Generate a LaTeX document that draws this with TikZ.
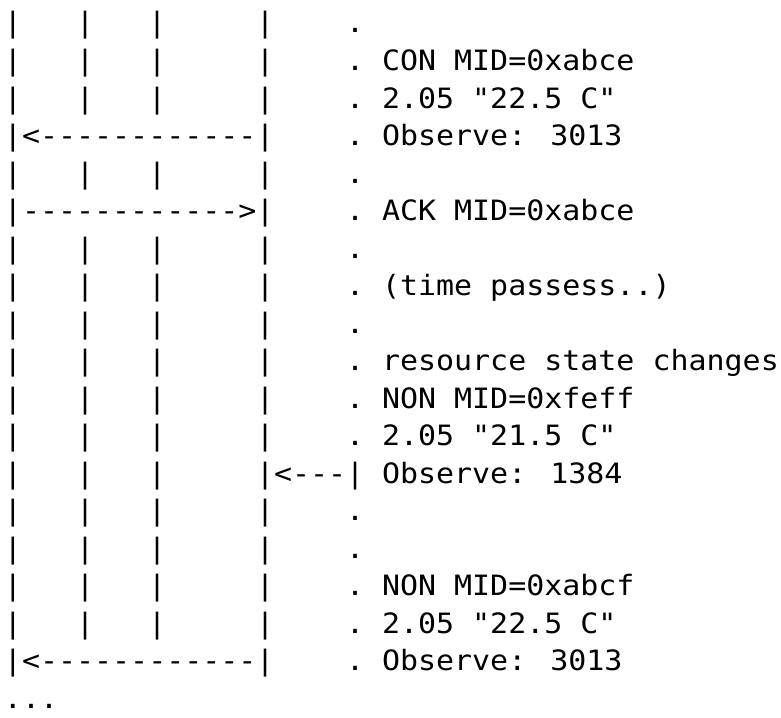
\documentclass[tikz,border=0pt]{standalone}
\usepackage{fontspec}
\newfontfamily\mono[FakeStretch=1.07,Ligatures=TeXOff]{DejaVu Sans Mono}

\begin{document}
\begin{tikzpicture}[x=1pt, y=-1pt,
    ch/.style={anchor=base west, inner sep=0, outer sep=0, font=\mono\fontsize{28}{37.5}\selectfont}
  ]
  \useasboundingbox (0,0) rectangle (781,717);
  % lifelines
  \foreach \r in {0,...,17}
    \foreach \c in {0,14}
      \node[ch] (bar-\r-\c) at ({4+18*\c},{33+37.5*\r}) {|};
  \foreach \r in {0,1,2,4,6,7,8,9,10,11,12,13,14,15,16}
    \foreach \c in {4,8}
      \node[ch] (bar-\r-\c) at ({4+18*\c},{33+37.5*\r}) {|};
  % dotted column
  \foreach \r in {0,1,2,3,4,5,6,7,8,9,10,11,13,14,15,16,17}
    \node[ch] (dot-\r) at ({4+18*19},{33+37.5*\r}) {.};
  % messages
  \node[ch] (msg-3)  at ({4+18*1},{33+37.5*3})   {<------------};
  \node[ch] (msg-5)  at ({4+18*1},{33+37.5*5})   {------------>};
  \node[ch] (msg-12) at ({4+18*15},{33+37.5*12}) {<---|};
  \node[ch] (msg-17) at ({4+18*1},{33+37.5*17})  {<------------};
  % notes
  \node[ch] (txt-1)  at ({4+18*21},{33+37.5*1})  {CON MID=0xabce};
  \node[ch] (txt-2)  at ({4+18*21},{33+37.5*2})  {2.05 "22.5 C"};
  \node[ch] (txt-3)  at ({4+18*21},{33+37.5*3})  {Observe: 3013};
  \node[ch] (txt-5)  at ({4+18*21},{33+37.5*5})  {ACK MID=0xabce};
  \node[ch] (txt-7)  at ({4+18*21},{33+37.5*7})  {(time passess..)};
  \node[ch] (txt-9)  at ({4+18*21},{33+37.5*9})  {resource state changes};
  \node[ch] (txt-10) at ({4+18*21},{33+37.5*10}) {NON MID=0xfeff};
  \node[ch] (txt-11) at ({4+18*21},{33+37.5*11}) {2.05 "21.5 C"};
  \node[ch] (txt-12) at ({4+18*21},{33+37.5*12}) {Observe: 1384};
  \node[ch] (txt-15) at ({4+18*21},{33+37.5*15}) {NON MID=0xabcf};
  \node[ch] (txt-16) at ({4+18*21},{33+37.5*16}) {2.05 "22.5 C"};
  \node[ch] (txt-17) at ({4+18*21},{33+37.5*17}) {Observe: 3013};
  \node[ch] (more)   at (4,{33+37.5*18})         {...};
\end{tikzpicture}
\end{document}
